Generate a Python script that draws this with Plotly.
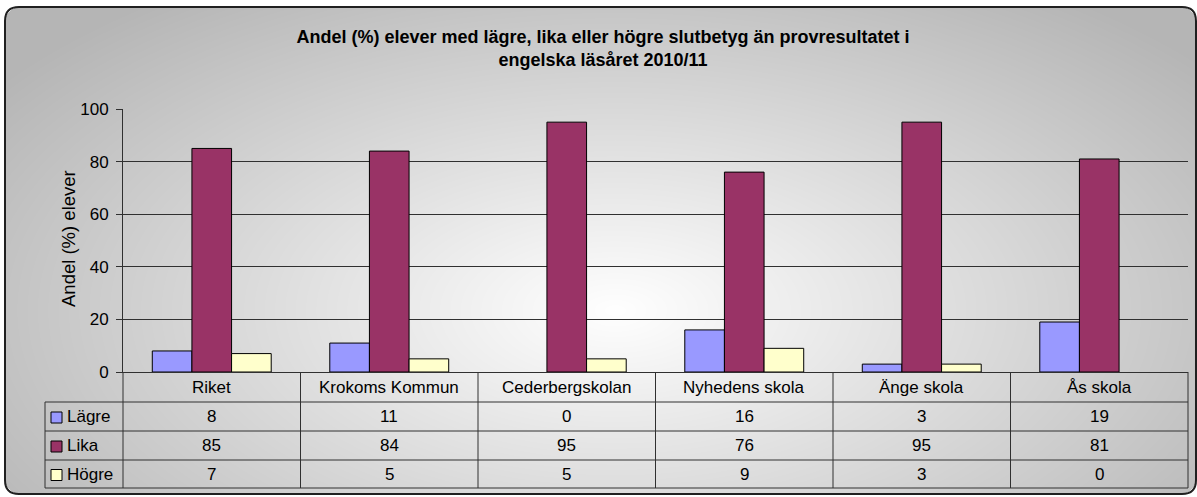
import numpy as np
import zlib
import struct
import base64
import plotly.graph_objects as go

# ---------------- data ----------------
categories = ["Riket", "Krokoms Kommun", "Cederbergskolan", "Nyhedens skola", "Änge skola", "Ås skola"]
lagre = [8, 11, 0, 16, 3, 19]
lika = [85, 84, 95, 76, 95, 81]
hogre = [7, 5, 5, 9, 3, 0]
series_names = ["Lägre", "Lika", "Högre"]
series_colors = ["#9999FF", "#993366", "#FFFFCC"]
y_ticks = [0, 20, 40, 60, 80, 100]
title_text = "Andel (%) elever med lägre, lika eller högre slutbetyg än provresultatet i<br>engelska läsåret 2010/11"
y_title = "Andel (%) elever"

series_values = [lagre, lika, hogre]

# ---------------- geometry ----------------
W, H = 1197, 497
L, R, T, B = 123, 9, 109, 125
PW = W - L - R
PH = H - T - B
FONT = "Liberation Sans, Arial, sans-serif"
FS = 17
LINE = "#303030"


def px_x(px):
    return (px - L) / PW


def px_y(py):
    return (H - B - py) / PH


# ---------------- background gradient image ----------------
BX0, BY0, BX1, BY1, BRAD = 5, 7, 1196, 494, 14


def gradient_png():
    w = BX1 - BX0
    h = BY1 - BY0
    yy, xx = np.mgrid[0:h, 0:w].astype(float)
    gx = xx + BX0
    gy = yy + BY0
    d = np.sqrt(((gx - 615) / 660.0) ** 2 + ((gy - 310) / 340.0) ** 2)
    v = 255 - 64 * np.clip(d, 0, 1.15)
    dx = np.maximum(np.maximum(BRAD - xx, xx - (w - 1 - BRAD)), 0)
    dy = np.maximum(np.maximum(BRAD - yy, yy - (h - 1 - BRAD)), 0)
    inside = (dx ** 2 + dy ** 2) <= BRAD ** 2
    img = np.zeros((h, w, 4), dtype=np.uint8)
    vv = np.clip(v, 0, 255).astype(np.uint8)
    img[..., 0] = vv
    img[..., 1] = vv
    img[..., 2] = vv
    img[..., 3] = np.where(inside, 255, 0).astype(np.uint8)
    raw = b"".join(b"\x00" + img[r].tobytes() for r in range(h))

    def chunk(tag, data):
        c = struct.pack(">I", len(data)) + tag + data
        return c + struct.pack(">I", zlib.crc32(tag + data) & 0xFFFFFFFF)

    png = b"\x89PNG\r\n\x1a\n"
    png += chunk(b"IHDR", struct.pack(">IIBBBBB", w, h, 8, 6, 0, 0, 0))
    png += chunk(b"IDAT", zlib.compress(raw, 9))
    png += chunk(b"IEND", b"")
    return "data:image/png;base64," + base64.b64encode(png).decode()


fig = go.Figure()
for name, vals, col in zip(series_names, series_values, series_colors):
    fig.add_trace(go.Bar(
        x=categories, y=vals, name=name,
        marker=dict(color=col,
                    line=dict(color="#000000", width=[1 if v > 0 else 0 for v in vals])),
        hoverinfo="x+y+name",
    ))

shapes = []
annotations = []

# rounded outer border
x0, y0, x1, y1, r = BX0, BY0, BX1, BY1, BRAD
pts = [
    ("M", x0 + r, y0), ("L", x1 - r, y0), ("Q", x1, y0, x1, y0 + r),
    ("L", x1, y1 - r), ("Q", x1, y1, x1 - r, y1), ("L", x0 + r, y1),
    ("Q", x0, y1, x0, y1 - r), ("L", x0, y0 + r), ("Q", x0, y0, x0 + r, y0),
]
path = ""
for p in pts:
    cmd = p[0]
    coords = p[1:]
    s = []
    for i in range(0, len(coords), 2):
        s.append(f"{px_x(coords[i]):.5f},{px_y(coords[i + 1]):.5f}")
    path += cmd + " ".join(s) + " "
path += "Z"
shapes.append(dict(type="path", xref="paper", yref="paper", path=path,
                   line=dict(color="#202020", width=2), fillcolor="rgba(0,0,0,0)"))

# data table
TAB_LEFT = 45
ROW_Y = [372, 402, 431, 460, 488]
n = len(categories)
col_edges = [L + PW * i / n for i in range(n + 1)]


def hline(xa, xb, yp):
    shapes.append(dict(type="line", xref="paper", yref="paper",
                       x0=px_x(xa), x1=px_x(xb), y0=px_y(yp), y1=px_y(yp),
                       line=dict(color=LINE, width=1)))


def vline(xp, ya, yb):
    shapes.append(dict(type="line", xref="paper", yref="paper",
                       x0=px_x(xp), x1=px_x(xp), y0=px_y(ya), y1=px_y(yb),
                       line=dict(color=LINE, width=1)))


for yp in ROW_Y[1:]:
    hline(TAB_LEFT, col_edges[-1], yp)
for xe in col_edges:
    vline(xe, ROW_Y[0], ROW_Y[-1])
vline(TAB_LEFT, ROW_Y[1], ROW_Y[-1])

# header row: category names
for c in categories:
    annotations.append(dict(x=c, xref="x", y=px_y((ROW_Y[0] + ROW_Y[1]) / 2), yref="paper",
                            text=c, showarrow=False, xanchor="center", yanchor="middle",
                            font=dict(family=FONT, size=FS, color="#000")))

# value rows + legend keys
for ri, (name, vals, col) in enumerate(zip(series_names, series_values, series_colors)):
    yc = (ROW_Y[ri + 1] + ROW_Y[ri + 2]) / 2
    for c, v in zip(categories, vals):
        annotations.append(dict(x=c, xref="x", y=px_y(yc), yref="paper",
                                text=f"{v:g}", showarrow=False, xanchor="center", yanchor="middle",
                                font=dict(family=FONT, size=FS, color="#000")))
    shapes.append(dict(type="rect", xref="paper", yref="paper",
                       x0=px_x(51), x1=px_x(62), y0=px_y(yc - 4.5), y1=px_y(yc + 6.5),
                       fillcolor=col, line=dict(color="#000", width=1)))
    annotations.append(dict(x=px_x(65), xref="paper", y=px_y(yc), yref="paper",
                            text=name, showarrow=False, xanchor="left", yanchor="middle",
                            font=dict(family=FONT, size=FS, color="#000")))

# y-axis title
annotations.append(dict(x=px_x(68), xref="paper", y=px_y(239), yref="paper",
                        text=y_title, textangle=-90, showarrow=False,
                        xanchor="center", yanchor="middle",
                        font=dict(family=FONT, size=18.5, color="#000")))

fig.update_layout(
    width=W, height=H,
    margin=dict(l=L, r=R, t=T, b=B, pad=0),
    paper_bgcolor="#ffffff",
    plot_bgcolor="rgba(0,0,0,0)",
    barmode="group", bargap=0.33, bargroupgap=0,
    showlegend=False,
    title=dict(text=title_text, x=603 / W, xanchor="center", xref="container",
               y=1 - 43 / H, yanchor="middle", yref="container",
               font=dict(family=FONT, size=18, color="#000", weight="bold")),
    font=dict(family=FONT, size=FS, color="#000"),
    images=[dict(source=gradient_png(), xref="paper", yref="paper",
                 x=px_x(BX0), y=px_y(BY0), sizex=(BX1 - BX0) / PW, sizey=(BY1 - BY0) / PH,
                 xanchor="left", yanchor="top", sizing="stretch", layer="below")],
    shapes=shapes,
    annotations=annotations,
    xaxis=dict(showticklabels=False, ticks="", showgrid=False, zeroline=False,
               showline=True, linecolor=LINE, linewidth=1, fixedrange=True),
    yaxis=dict(range=[0, 100], tickvals=y_ticks, ticks="outside", ticklen=6,
               tickcolor=LINE, showgrid=True, gridcolor=LINE, gridwidth=1,
               zeroline=False, showline=True, linecolor=LINE, linewidth=1,
               tickfont=dict(family=FONT, size=FS, color="#000"), fixedrange=True,
               ticklabelstandoff=4),
)

fig.write_html("out.html", config={"displayModeBar": False},
               post_script="document.body.style.margin='0px';document.body.style.overflow='hidden';")
